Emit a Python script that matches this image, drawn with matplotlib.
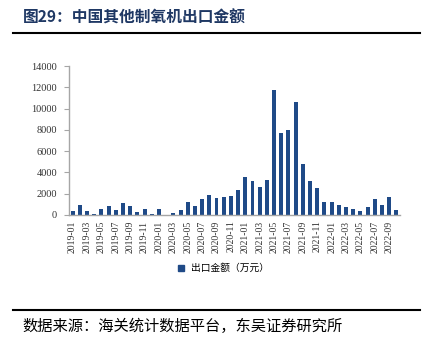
import matplotlib
matplotlib.use("Agg")
import matplotlib.pyplot as plt
from matplotlib.lines import Line2D

months = [f"{y}-{m:02d}" for y in range(2019, 2023) for m in range(1, 13)][:46]
values = [350, 950, 420, 120, 520, 880, 430, 1150, 830, 300, 600, 100,
          520, 30, 200, 440, 1220, 845, 1470, 1850, 1600, 1720, 1780, 2380,
          3570, 3190, 2660, 3290, 11700, 7730, 7980, 10640, 4820, 3190, 2500, 1220,
          1220, 940, 780, 560, 340, 780, 1470, 900, 1720, 500]
yticks = [0, 2000, 4000, 6000, 8000, 10000, 12000, 14000]
title = "图29：中国其他制氧机出口金额"
source = "数据来源：海关统计数据平台，东吴证券研究所"
series_name = "出口金额（万元）"

bar_color = "#1F4A87"
cjk = ["Noto Sans CJK SC", "DejaVu Sans"]
serif = ["Liberation Serif", "DejaVu Serif"]

fig = plt.figure(figsize=(4.41, 3.48), dpi=100)
ax = fig.add_axes([69/441, 1-215/348, (400-69)/441, (215-66)/348])

x = list(range(len(values)))
ax.bar(x, values, width=0.55, color=bar_color, label=series_name, zorder=2)
ax.set_xlim(-0.5, len(values)-0.5)
ax.set_ylim(0, 14000)
ax.set_yticks(yticks)
ax.set_yticklabels([str(v) for v in yticks], fontfamily=serif, fontsize=7.5, color="#333333")
ax.set_xticks(x[::2])
ax.set_xticklabels(months[::2], rotation=90, fontfamily=serif, fontsize=7, color="#333333")
ax.tick_params(axis="x", length=0, pad=4)
ax.tick_params(axis="y", length=3.5, color="#A6A6A6", width=0.8, pad=5)
for s in ["top", "right"]:
    ax.spines[s].set_visible(False)
for s in ["left", "bottom"]:
    ax.spines[s].set_color("#A6A6A6")
    ax.spines[s].set_linewidth(1.0)

handle = Line2D([], [], marker="s", color=bar_color, linestyle="none", markersize=4)
fig.legend([handle], [series_name], loc="center", bbox_to_anchor=(220/441, 1-268/348),
           frameon=False, prop={"family": cjk, "size": 7}, handletextpad=0.1)

fig.text(23/441, 1-18/348, title, fontfamily=cjk, fontsize=11.3, fontweight="bold",
         color="#1F3864", va="center", ha="left")
fig.add_artist(Line2D([13/441, 420/441], [1-33/348, 1-33/348], color="black", linewidth=1.5))
fig.add_artist(Line2D([13/441, 420/441], [1-310/348, 1-310/348], color="black", linewidth=1.5))
fig.text(22/441, 1-326/348, source, fontfamily=cjk, fontsize=11, color="black",
         va="center", ha="left")

fig.savefig("out.png", dpi=100)
